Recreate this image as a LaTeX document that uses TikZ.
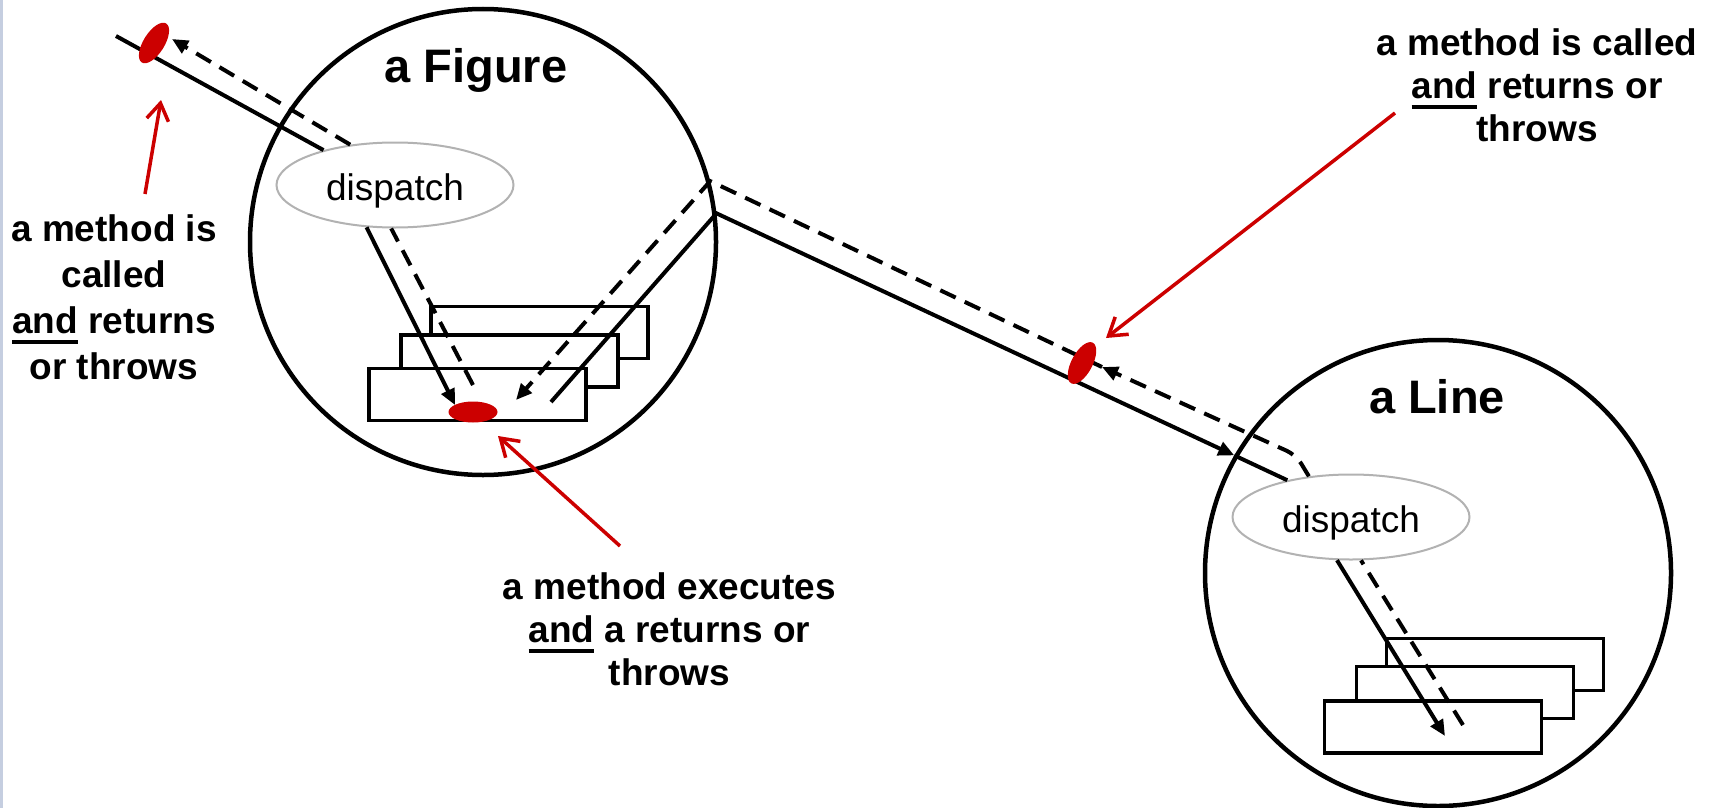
\documentclass[tikz,border=0pt]{standalone}
\usepackage{fontspec}
\setmainfont{Liberation Sans}
\usetikzlibrary{shapes.geometric,arrows.meta}
\definecolor{callred}{RGB}{204,0,0}
\definecolor{dispgray}{RGB}{178,178,178}
\definecolor{edgeblue}{RGB}{197,206,224}
\newcommand{\uand}{\setbox0\hbox{and}\rlap{\rule[-10pt]{\wd0}{4pt}}and}
\tikzset{
  obj/.style={circle,draw,line width=4.5pt,minimum size=466pt,inner sep=0pt},
  objname/.style={font=\bfseries\fontsize{47pt}{56pt}\selectfont,anchor=base,inner sep=0pt},
  disp/.style={ellipse,draw=dispgray,line width=2pt,fill=white,minimum width=237pt,
    minimum height=85pt,inner sep=0pt,font=\fontsize{37pt}{44pt}\selectfont,
    text height=30pt,text depth=0pt},
  meth/.style={rectangle,draw,line width=3.2pt,fill=white,minimum width=217pt,minimum height=52pt},
  annot/.style={font=\bfseries\fontsize{37pt}{43pt}\selectfont,align=center,anchor=north,inner sep=0pt},
  call/.style={line width=4pt},
  ret/.style={line width=4pt,dash pattern=on 17pt off 10pt},
  arr/.style={-{Triangle[length=16pt,width=14pt]}},
  pointer/.style={callred,line width=3.5pt,-{Straight Barb[length=17pt,width=22pt]}},
  spot/.style={ellipse,fill=callred,inner sep=0pt,minimum width=46pt,minimum height=21pt}
}
\begin{document}
\begin{tikzpicture}[x=1pt,y=-1pt]
\useasboundingbox (0,0) rectangle (1715,808);
\fill[edgeblue] (0,0) rectangle (3,808);

% the two objects
\node[obj] (figure) at (483,242) {};
\node[obj] (line) at (1438,573) {};
\node[objname] (figtitle) at (476,82) {a Figure};
\node[objname] (linetitle) at (1437,413) {a Line};

% their methods
\node[meth] (figm3) at (539.5,332.5) {};
\node[meth] (figm2) at (509.5,361) {};
\node[meth] (figm1) at (477.5,394.5) {};
\node[meth] (linem3) at (1495,664.5) {};
\node[meth] (linem2) at (1465,692.5) {};
\node[meth] (linem1) at (1433,727) {};

\node[disp] (figdisp) at (395,185) {dispatch};
\node[disp] (linedisp) at (1351,517) {dispatch};

% free ends
\coordinate (callin) at (116,36);
\coordinate (retout) at (172,39);
\coordinate (figrun) at (455,405);
\coordinate (figback) at (473,385);
\coordinate (figcall) at (551,402);
\coordinate (figret) at (516,400);
\coordinate (retmid) at (1102,367);
\coordinate (lineturn) at (1296,455);
\coordinate (linerun) at (1445,736);
\coordinate (lineback) at (1463,725);

% calls and returns
\draw[call] (callin) -- (figdisp.154);
\draw[call,arr] (figdisp.236) -- (figrun);
\draw[ret] (figback) -- (figdisp.265);
\draw[ret,arr] (figdisp.138) -- (retout);
\draw[call,arr] (figcall) -- (figure.7) -- (line.150);
\draw[call] (line.150) -- (linedisp.150);
\draw[call,arr] (linedisp.252) -- (linerun);
\draw[ret] (lineback) -- (linedisp.283);
\draw[ret,arr,rounded corners=10pt] (linedisp.136) -- (lineturn) -- (retmid);
\draw[ret,arr] (retmid) -- (figure.15) -- (figret);

% events
\node[spot,rotate=58] (calloval) at (154,43) {};
\node[spot,rotate=62] (retoval) at (1082,363) {};
\node[spot,minimum width=49pt] (runoval) at (473,412) {};

\node[annot,font=\bfseries\fontsize{37pt}{46pt}\selectfont] (calledtext) at (114,214.5)
  {a method is\\called\\\uand{} returns\\or throws};
\node[annot] (runtext) at (669.5,572.5) {a method executes\\\uand{} a returns or\\throws};
\node[annot] (rettext) at (1537,28.5) {a method is called\\\uand{} returns or\\throws};

\coordinate (calledfoot) at (145,194);
\coordinate (calledtip) at (161,100);
\coordinate (runfoot) at (620,546);
\coordinate (runtip) at (498,436);
\coordinate (retfoot) at (1395,113);
\coordinate (rettip) at (1106,338);
\draw[pointer] (calledfoot) -- (calledtip);
\draw[pointer] (runfoot) -- (runtip);
\draw[pointer] (retfoot) -- (rettip);
\end{tikzpicture}
\end{document}
